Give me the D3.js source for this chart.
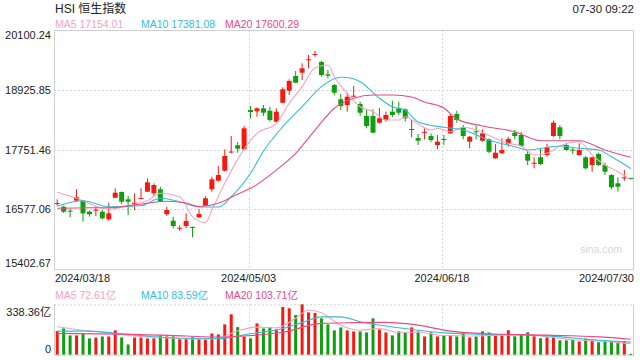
<!DOCTYPE html>
<html><head><meta charset="utf-8">
<script src="https://cdn.jsdelivr.net/npm/d3@7/dist/d3.min.js"></script>
<style>
body{margin:0;background:#fff;}
svg{display:block;font-family:"Liberation Sans",Arial,"Noto Sans CJK SC",sans-serif;}
</style>
</head><body>
<svg id="c" width="640" height="360"></svg>
<script>
// ---------- data ----------
const dates = [
"2024/03/18","2024/03/19","2024/03/20","2024/03/21","2024/03/22","2024/03/25","2024/03/26","2024/03/27","2024/03/28",
"2024/04/02","2024/04/03","2024/04/05","2024/04/08","2024/04/09","2024/04/10","2024/04/11","2024/04/12","2024/04/15","2024/04/16","2024/04/17","2024/04/18","2024/04/19","2024/04/22","2024/04/23","2024/04/24","2024/04/25","2024/04/26","2024/04/29","2024/04/30",
"2024/05/02","2024/05/03","2024/05/06","2024/05/07","2024/05/08","2024/05/09","2024/05/10","2024/05/13","2024/05/14","2024/05/16","2024/05/17","2024/05/20","2024/05/21","2024/05/22","2024/05/23","2024/05/24","2024/05/27","2024/05/28","2024/05/29","2024/05/30","2024/05/31",
"2024/06/03","2024/06/04","2024/06/05","2024/06/06","2024/06/07","2024/06/11","2024/06/12","2024/06/13","2024/06/14","2024/06/17","2024/06/18","2024/06/19","2024/06/20","2024/06/21","2024/06/24","2024/06/25","2024/06/26","2024/06/27","2024/06/28",
"2024/07/02","2024/07/03","2024/07/04","2024/07/05","2024/07/08","2024/07/09","2024/07/10","2024/07/11","2024/07/12","2024/07/15","2024/07/16","2024/07/17","2024/07/18","2024/07/19","2024/07/22","2024/07/23","2024/07/24","2024/07/25","2024/07/26","2024/07/29","2024/07/30"];

const open  = [16693,16630,16552,16748,16748,16532,16560,16532,16382,16807,16919,16775,16663,16790,16925,16893,16972,16481,16355,16205,16251,16232,16422,16650,16972,17141,17337,17700,17836,17757,
               18529,18503,18562,18515,18299,18672,18908,19197,19262,19511,19622,19472,19230,19020,18739,18627,18800,18647,18411,18411,
               18280,18333,18496,18562,18542,18146,17979,18090,18018,17842,17960,18071,18451,18189,17907,18110,17926,17953,17580,17678,
               17861,18083,18038,17665,17490,17600,17645,18018,18189,17842,17750,17645,17600,17449,17665,17449,17252,17089,17200,17195];
const high  = [16775,16654,16591,16972,16760,16552,16644,16565,16709,16991,16930,16840,16893,16991,17187,17089,17023,16630,16434,16265,16500,16241,16579,16840,17219,17429,17757,18018,17900,18215,
               18608,18578,18627,18594,18562,18975,19132,19295,19446,19609,19688,19492,19314,19040,18843,18869,19000,18692,18529,18542,
               18568,18496,18712,18692,18562,18333,18058,18170,18068,18038,18038,18451,18515,18234,18020,18215,18150,17970,17861,17973,
               18004,18136,18103,17744,17600,17777,17861,18319,18234,17887,17796,17875,17626,17610,17690,17494,17270,17207,17351,17200];
const low   = [16644,16506,16422,16738,16335,16434,16447,16382,16355,16800,16683,16467,16565,16780,16919,16846,16722,16453,16206,16153,16206,16029,16410,16640,16925,17125,17320,17679,17690,17740,
               18366,18398,18411,18299,18290,18660,18824,19059,19118,19348,19576,19183,19151,18824,18529,18496,18790,18411,18170,18070,
               18264,18299,18385,18431,18299,17993,17842,17953,17901,17757,17842,18060,18280,17953,17777,17953,17910,17679,17570,17665,
               17809,17953,17810,17449,17384,17449,17612,18000,17953,17730,17665,17630,17364,17317,17429,17252,16972,16925,17141,17185];
const close = [16703,16532,16545,16815,16500,16481,16570,16402,16500,16905,16728,16728,16709,16800,17109,17056,16728,16565,16251,16216,16349,16225,16487,16795,17168,17253,17626,17714,17769,18170,
               18490,18562,18476,18333,18496,18936,19099,19065,19348,19525,19629,19216,19203,18869,18608,18790,18810,18476,18215,18083,
               18366,18431,18431,18476,18366,18156,17926,18100,17940,17907,17953,18411,18333,18018,18005,18100,18071,17710,17690,17744,
               17959,18018,17822,17534,17494,17469,17797,18280,18018,17744,17744,17744,17384,17600,17449,17317,17011,17023,17207,17188];
// turnover, 亿
const volume = [158,176,129,129,140,109,115,122,122,163,115,68,115,115,109,109,129,122,122,104,109,117,109,102,142,136,203,271,185,122,
                109,210,176,185,169,320,312,266,338,284,280,244,203,163,183,163,156,156,149,244,
                169,149,129,156,149,183,156,122,149,122,129,129,122,151,115,122,156,149,129,129,
                164,123,137,150,123,110,116,123,96,96,100,88,108,94,83,92,90,86,90,5];

// moving-average lines: [day index, value]
const ma5  = [[0,16913],[3,16795],[7,16599],[8,16579],[12,16683],[14,16748],[16,16893],[19,16826],[21,16434],[23,16316],[24,16565],[26,17090],[28,17560],[31,18072],[34,18268],[36,18661],[38,18987],[40,19360],[42,19413],[43,19183],[45,18857],[47,18594],[49,18500],[51,18333],[53,18333],[54,18397],[56,18254],[58,18136],[59,18170],[61,18103],[63,18189],[65,18136],[68,17973],[70,17875],[72,17822],[74,17645],[76,17679],[78,17822],[81,17907],[83,17645],[85,17449],[87,17317],[89,17154.01]];
const ma10 = [[0,16644],[4,16748],[8,16630],[13,16650],[16,16795],[19,16728],[22,16624],[25,16624],[27,16826],[30,17286],[32,17720],[35,18201],[38,18594],[41,18987],[44,19171],[45,19167],[47,19085],[50,18759],[52,18594],[54,18529],[56,18293],[60,18189],[63,18136],[67,17940],[71,17808],[73,17744],[78,17822],[81,17777],[84,17744],[86,17612],[89,17381.08]];
const ma20 = [[0,16599],[5,16610],[8,16610],[12,16663],[17,16736],[20,16703],[22,16634],[25,16697],[28,16879],[30,16991],[34,17351],[37,17679],[40,18136],[43,18563],[46,18759],[49,18824],[52,18824],[55,18784],[57,18686],[60,18568],[62,18352],[66,18215],[71,18103],[75,17926],[81,17926],[85,17744],[89,17600.29]];
const volMa5  = [[0,187],[3,169],[7,150],[12,125],[17,112],[22,104],[25,110],[28,160],[31,185],[34,180],[37,245],[39,300],[41,281],[44,198],[47,164],[50,175],[53,150],[56,150],[60,128],[64,125],[68,130],[72,135],[76,120],[80,100],[84,92],[89,72.61]];
const volMa10 = [[0,158],[5,158],[10,140],[15,120],[20,110],[25,108],[30,140],[35,175],[38,215],[41,254],[44,254],[47,221],[51,192],[56,164],[60,146],[66,137],[76,126],[84,97],[89,83.59]];
const volMa20 = [[0,142],[10,138],[20,125],[25,118],[30,128],[35,150],[41,210],[46,215],[51,217],[56,198],[61,158],[66,142],[76,131],[84,119],[89,103.71]];

const priceTicks = [20100.24, 18925.85, 17751.46, 16577.06, 15402.67];
const volMax = 338.36;
const dateTicks = ["2024/03/18","2024/05/03","2024/06/18","2024/07/30"];
const title = "HSI 恒生指数";
const stamp = "07-30 09:22";
const legendPrice = [["MA5", "17154.01"],["MA10","17381.08"],["MA20","17600.29"]];
const legendVol = [["MA5","72.61亿"],["MA10","83.59亿"],["MA20","103.71亿"]];

// ---------- styling ----------
const UP = "#f21b12", DOWN = "#0f9e0f";
const MA_COLORS = ["#f6a3c1", "#35bcdd", "#ec4a80"];
const GRID = "#d4d4d4", FRAME = "#cfcfcf";

const L = 54, R = 634, PT = 30, PB = 269.2, VT = 304.3, VB = 354.6;

const svg = d3.select("#c");
const x = d3.scaleBand().domain(dates).range([L, R]).padding(0);
const bw = x.bandwidth();
const cx = i => x(dates[i]) + bw / 2;
const y = d3.scaleLinear().domain([priceTicks[4], priceTicks[0]]).range([PB, PT]);
const yv = d3.scaleLinear().domain([0, volMax]).range([VB, VT]);

// ---------- frames & grid ----------
const g = svg.append("g");
// horizontal dotted grid (price)
priceTicks.slice(1, 4).forEach(t => {
  g.append("line").attr("x1", L).attr("x2", R).attr("y1", Math.round(y(t)) + 0.5).attr("y2", Math.round(y(t)) + 0.5)
   .attr("stroke", GRID).attr("stroke-dasharray", "2,2");
});
// vertical dashed lines at middle date ticks (both panels)
dateTicks.slice(1, 3).forEach(d => {
  const xx = Math.round(x(d) + bw * 0.2) + 0.5;
  g.append("line").attr("x1", xx).attr("x2", xx).attr("y1", PT).attr("y2", PB).attr("stroke", GRID).attr("stroke-dasharray", "2,2");
  g.append("line").attr("x1", xx).attr("x2", xx).attr("y1", VT).attr("y2", VB).attr("stroke", GRID).attr("stroke-dasharray", "2,2");
});
// price frame
g.append("rect").attr("x", L + 0.5).attr("y", PT + 0.5).attr("width", R - L - 1).attr("height", PB - PT)
 .attr("fill", "none").attr("stroke", FRAME);
// volume frame
g.append("line").attr("x1", L).attr("x2", R).attr("y1", VT + 0.5).attr("y2", VT + 0.5).attr("stroke", GRID).attr("stroke-dasharray", "2,2");
g.append("line").attr("x1", L + 0.5).attr("x2", L + 0.5).attr("y1", VT).attr("y2", VB + 1).attr("stroke", FRAME);
g.append("line").attr("x1", R - 0.5).attr("x2", R - 0.5).attr("y1", VT).attr("y2", VB + 1).attr("stroke", FRAME);
g.append("line").attr("x1", L).attr("x2", R).attr("y1", VB + 0.5).attr("y2", VB + 0.5).attr("stroke", FRAME);

// watermark
svg.append("text").attr("x", 622).attr("y", 253).attr("text-anchor", "end").attr("font-size", 10.5)
   .attr("fill", "#d6d6d6").text("sina.com");

// ---------- candles ----------
const candles = svg.append("g");
dates.forEach((d, i) => {
  const col = close[i] >= open[i] ? UP : DOWN;
  const c = cx(i);
  candles.append("line").attr("x1", c).attr("x2", c).attr("y1", y(high[i])).attr("y2", y(low[i]))
     .attr("stroke", col).attr("stroke-width", 1);
  const top = y(Math.max(open[i], close[i])), bot = y(Math.min(open[i], close[i]));
  candles.append("rect").attr("x", c - 2.5).attr("width", 5).attr("y", top).attr("height", Math.max(1, bot - top))
     .attr("fill", col);
});

// ---------- MA lines ----------
const lineP = d3.line().x(p => cx(p[0])).y(p => y(p[1])).curve(d3.curveMonotoneX);
const lineV = d3.line().x(p => cx(p[0])).y(p => yv(p[1])).curve(d3.curveMonotoneX);
[ma5, ma10, ma20].forEach((s, k) => {
  svg.append("path").attr("d", lineP(s)).attr("fill", "none").attr("stroke", MA_COLORS[k]).attr("stroke-width", 1.1);
});

// ---------- volume ----------
const vols = svg.append("g");
dates.forEach((d, i) => {
  const col = close[i] >= open[i] ? UP : DOWN;
  vols.append("rect").attr("x", cx(i) - 1.5).attr("width", 3).attr("y", yv(volume[i]))
      .attr("height", Math.max(1, yv(0) - yv(volume[i]))).attr("fill", col);
});
[volMa5, volMa10, volMa20].forEach((s, k) => {
  svg.append("path").attr("d", lineV(s)).attr("fill", "none").attr("stroke", MA_COLORS[k]).attr("stroke-width", 1.1);
});

// ---------- text ----------
svg.append("text").attr("x", 55).attr("y", 13).attr("font-size", 12).attr("fill", "#222").text(title);
svg.append("text").attr("x", 634).attr("y", 13).attr("text-anchor", "end").attr("font-size", 11.5).attr("fill", "#222").text(stamp);

const legX = [55, 141, 225];
legendPrice.forEach((l, k) => {
  svg.append("text").attr("x", legX[k]).attr("y", 27.5).attr("font-size", 10.5).attr("fill", MA_COLORS[k]).text(l[0] + " " + l[1]);
});
legendVol.forEach((l, k) => {
  svg.append("text").attr("x", legX[k]).attr("y", 299).attr("font-size", 10.5).attr("fill", MA_COLORS[k]).text(l[0] + " " + l[1]);
});

// price axis labels
const ax = svg.append("g").attr("font-size", 11).attr("fill", "#222").attr("text-anchor", "end");
priceTicks.forEach((t, k) => {
  let yy = y(t) + 4;
  if (k === 0) yy = y(t) + 8.5;
  if (k === 4) yy = y(t) - 2.5;
  ax.append("text").attr("x", 51).attr("y", yy).text(t.toFixed(2));
});
// volume axis labels
ax.append("text").attr("x", 51).attr("y", yv(volMax) + 11.5).text(volMax.toFixed(2) + "亿");
ax.append("text").attr("x", 51).attr("y", yv(0) - 2).text("0");

// date labels
dateTicks.forEach((d, k) => {
  const anchor = k === 0 ? "start" : (k === dateTicks.length - 1 ? "end" : "middle");
  const xx = k === 0 ? L + 1 : (k === dateTicks.length - 1 ? R : x(d) + bw * 0.2);
  svg.append("text").attr("x", xx).attr("y", 281.5).attr("text-anchor", anchor).attr("font-size", 11).attr("fill", "#222").text(d);
});
</script>
</body></html>
